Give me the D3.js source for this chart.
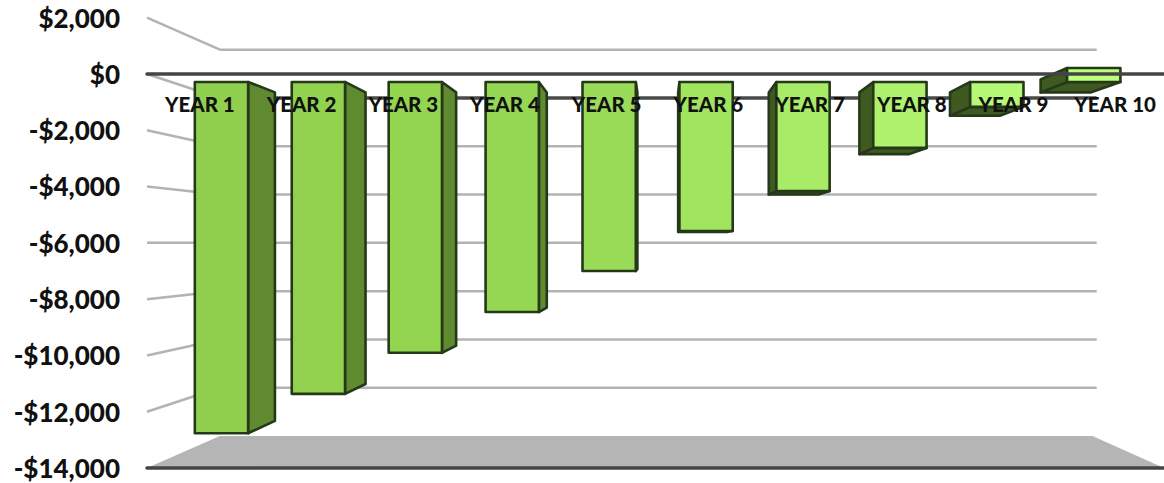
<!DOCTYPE html>
<html lang="en">
<head>
  <meta charset="UTF-8" />
  <title>Cumulative Cash Flow by Year</title>
  <style>
    body { margin: 0; background: #fff; }
    svg { display: block; }
    .tick line, .domain { display: none; }
    .y-axis text { font: 900 26px Lato, sans-serif; fill: #111; }
    .x-axis text { font: 900 20.5px Lato, sans-serif; fill: #111; }
  </style>
</head>
<body>
  <svg id="chart" width="1164" height="483"></svg>
  <script src="https://d3js.org/d3.v7.min.js"></script>
  <script>
    const years = ["YEAR 1", "YEAR 2", "YEAR 3", "YEAR 4", "YEAR 5", "YEAR 6", "YEAR 7", "YEAR 8", "YEAR 9", "YEAR 10"];
    const cashFlow = [-13100, -11630, -10100, -8580, -7050, -5560, -4070, -2460, -930, 520];
    const tickValues = [2000, 0, -2000, -4000, -6000, -8000, -10000, -12000, -14000];
    const tickLabels = ["$2,000", "$0", "-$2,000", "-$4,000", "-$6,000", "-$8,000", "-$10,000", "-$12,000", "-$14,000"];

    const svg = d3.select("#chart");

    // scales live on the front plane of the 3D box
    const xScale = d3.scaleBand().domain(years).range([149, 1166]).paddingInner(0.45).paddingOuter(0.225);
    const yScale = d3.scaleLinear().domain([-14000, 2000]).range([468, 17.7]);

    // perspective: depth 1 = front plane, smaller = further back
    const vanish = { x: 660, y: 243 };
    const depthWall = 0.858, depthBarFront = 0.953, depthBarBack = 0.891;
    const project = (x, y, d) => [vanish.x + (x - vanish.x) * d, vanish.y + (y - vanish.y) * d];
    const line = pts => "M" + pts.map(p => p.join(",")).join("L");
    const poly = pts => line(pts) + "Z";

    const x0 = 147, x1 = 1164;

    // floor
    svg.append("path")
      .attr("d", poly([project(x0, yScale(-14000), 1), project(x1, yScale(-14000), 1),
                       project(x1, yScale(-14000), depthWall), project(x0, yScale(-14000), depthWall)]))
      .attr("fill", "#b5b5b5");

    // gridlines: left side wall and back wall
    tickValues.filter(v => v !== -14000).forEach(v => {
      const y = yScale(v);
      svg.append("path")
        .attr("d", line([project(x0, y, 1), project(x0, y, depthWall)]))
        .attr("fill", "none").attr("stroke", "#b3b3b3").attr("stroke-width", 2.5);
      svg.append("path")
        .attr("d", line([project(x0, y, depthWall), project(x1 + 5, y, depthWall)]))
        .attr("fill", "none").attr("stroke", v === 0 ? "#4a4a4a" : "#b3b3b3").attr("stroke-width", v === 0 ? 3.5 : 2.5);
    });

    // bars get lighter along the axis
    const frontColor = d3.scaleLinear().domain([-13100, -8000, -2500]).range(["#90d04e", "#96d852", "#aef26e"]);
    const strokeColor = "#26381a";

    const bars = svg.append("g").selectAll("g")
      .data(years.map((name, i) => ({ name, value: cashFlow[i] })))
      .join("g");

    bars.each(function(d) {
      const g = d3.select(this);
      const left = xScale(d.name), right = left + xScale.bandwidth();
      const yTop = yScale(Math.max(d.value, 0)), yBot = yScale(Math.min(d.value, 0));
      const f = (x, y) => project(x, y, depthBarFront);
      const b = (x, y) => project(x, y, depthBarBack);
      const sideX = f(left, 0)[0] > vanish.x - 20 ? left : right;
      const isLeftFace = sideX === left;

      // visible end face, only when the bar ends above the vanishing point
      if (f(left, yBot)[1] < vanish.y) {
        g.append("path")
          .attr("d", poly([f(left, yBot), f(right, yBot), b(right, yBot), b(left, yBot)]))
          .attr("fill", "#3f5a20").attr("stroke", strokeColor).attr("stroke-width", 2.6).attr("stroke-linejoin", "round");
      }
      g.append("path")
        .attr("d", poly([f(sideX, yTop), b(sideX, yTop), b(sideX, yBot), f(sideX, yBot)]))
        .attr("fill", isLeftFace ? "#3f5a20" : "#5f8a30").attr("stroke", strokeColor).attr("stroke-width", 2.6).attr("stroke-linejoin", "round");
      g.append("path")
        .attr("d", poly([f(left, yTop), f(right, yTop), f(right, yBot), f(left, yBot)]))
        .attr("fill", frontColor(d.value)).attr("stroke", strokeColor).attr("stroke-width", 2.6).attr("stroke-linejoin", "round");
    });

    // front axis lines
    [0, -14000].forEach(v => {
      svg.append("line")
        .attr("x1", x0).attr("x2", x1)
        .attr("y1", yScale(v)).attr("y2", yScale(v))
        .attr("stroke", "#444").attr("stroke-width", 3.5).attr("stroke-linecap", "round");
    });

    // axes, text only
    svg.append("g").attr("class", "y-axis")
      .attr("transform", "translate(120,1)")
      .call(d3.axisLeft(yScale).tickValues(tickValues).tickSize(0).tickPadding(0)
        .tickFormat((v, i) => tickLabels[i]));

    svg.append("g").attr("class", "x-axis")
      .attr("transform", "translate(0,97)")
      .call(d3.axisBottom(xScale).tickSize(0).tickPadding(0));
  </script>
</body>
</html>
